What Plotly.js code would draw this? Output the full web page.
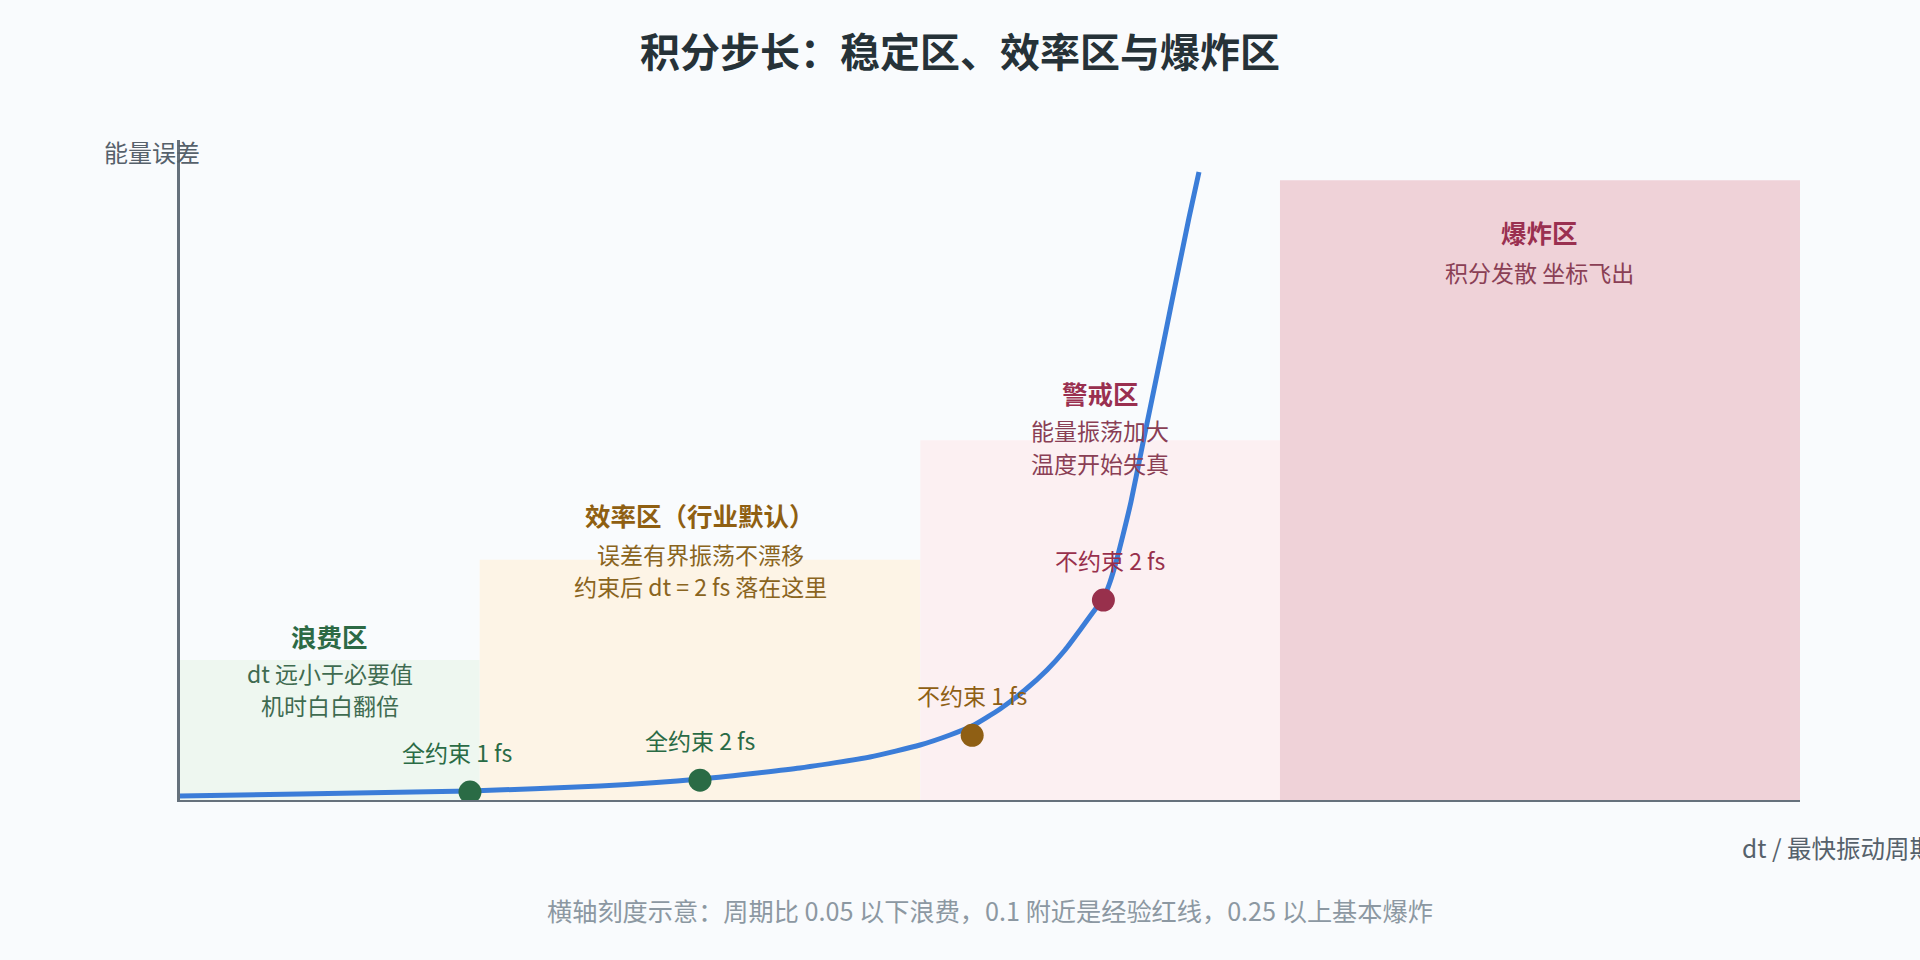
<!DOCTYPE html>
<html>
<head>
<meta charset="utf-8">
<script src="https://cdn.plot.ly/plotly-3.0.1.min.js"></script>
<style>
html,body{margin:0;padding:0;background:#f9fbfd;}
#chart{width:1920px;height:960px;}
</style>
</head>
<body>
<div id="chart"></div>
<script>
// ---- data ----
const curveX = [0, 7.41, 17.90, 25.93, 32.10, 38.27, 42.59, 45.68, 47.53, 48.89, 50.62, 52.16, 53.52, 54.63, 55.56, 56.30, 57.04, 57.41, 57.78, 58.21, 58.70, 59.44, 60.56, 61.17, 62.28, 62.90];
const curveY = [0.61, 0.91, 1.36, 2.12, 3.18, 4.85, 6.52, 8.33, 9.85, 11.21, 13.79, 16.67, 19.70, 22.73, 25.76, 28.26, 30.76, 33.03, 36.06, 40.15, 45.15, 54.09, 67.42, 74.85, 88.18, 95.15];

const pointNames = ["全约束 1 fs", "全约束 2 fs", "不约束 1 fs", "不约束 2 fs"];
const pointX = [17.9, 32.1, 48.9, 57.0];
const pointY = [1.2, 3.0, 9.8, 30.3];

const zoneNames = ["浪费区", "效率区（行业默认）", "警戒区", "爆炸区"];
const zoneStart = [0, 18.5, 45.7, 67.9];
const zoneEnd = [18.5, 45.7, 67.9, 100];
const zoneTop = [21.2, 36.4, 54.5, 93.9];
const zoneNotes = [
  ["dt 远小于必要值", "机时白白翻倍"],
  ["误差有界振荡不漂移", "约束后 dt = 2 fs 落在这里"],
  ["能量振荡加大", "温度开始失真"],
  ["积分发散 坐标飞出"]
];

const titleText = "积分步长：稳定区、效率区与爆炸区";
const yTitle = "能量误差";
const xTitle = "dt / 最快振动周期";
const footnote = "横轴刻度示意：周期比 0.05 以下浪费，0.1 附近是经验红线，0.25 以上基本爆炸";

// ---- styles ----
const FONT = "Noto Sans CJK SC, Noto Sans, sans-serif";
const zoneFill = ["#eef7f0", "#fdf4e6", "#fcf0f2", "#efd2d8"];
const zoneTitleColor = ["#2d6a45", "#8f5f12", "#9a3050", "#9a3050"];
const zoneNoteColor = ["#3f6b50", "#8a6420", "#8a3f55", "#8a3f55"];
const zoneTitleY = [25.0, 43.2, 61.8, 86.1];
const zoneNoteY = [[19.2, 14.4], [37.3, 32.4], [56.1, 51.1], [80.0]];
const pointColor = ["#2a6b45", "#2a6b45", "#8f5f14", "#98304c"];
const pointLabelColor = ["#2a6b45", "#2a6b45", "#8f5f14", "#98304c"];
const pointShiftX = [-13, 0, 0, 7];

const shapes = zoneStart.map((s, i) => ({
  type: "rect", xref: "x", yref: "y", layer: "below",
  x0: s, x1: zoneEnd[i], y0: 0, y1: zoneTop[i],
  fillcolor: zoneFill[i], line: {width: 0}
}));

const annotations = [];
zoneNames.forEach((n, i) => {
  const cx = (zoneStart[i] + zoneEnd[i]) / 2;
  annotations.push({x: cx, y: zoneTitleY[i], xref: "x", yref: "y", text: "<b>" + n + "</b>",
    showarrow: false, xanchor: "center", yanchor: "middle",
    font: {family: FONT, size: 25.5, color: zoneTitleColor[i]}});
  zoneNotes[i].forEach((t, j) => {
    annotations.push({x: cx, y: zoneNoteY[i][j], xref: "x", yref: "y", text: t,
      showarrow: false, xanchor: "center", yanchor: "middle",
      font: {family: FONT, size: 23, color: zoneNoteColor[i]}});
  });
});
pointNames.forEach((n, i) => {
  annotations.push({x: pointX[i], y: pointY[i], xref: "x", yref: "y", text: n,
    showarrow: false, xanchor: "center", yanchor: "middle", yshift: 40, xshift: pointShiftX[i],
    font: {family: FONT, size: 23, color: pointLabelColor[i]}});
});
annotations.push({x: -0.017, y: 0.982, xref: "paper", yref: "paper", text: yTitle,
  showarrow: false, xanchor: "center", yanchor: "middle",
  font: {family: FONT, size: 24, color: "#56616b"}});
annotations.push({x: 0.9630, y: -0.0727, xref: "paper", yref: "paper", text: xTitle,
  showarrow: false, xanchor: "left", yanchor: "middle",
  font: {family: FONT, size: 24.5, color: "#56616b"}});
annotations.push({x: 0.5, y: -0.1667, xref: "paper", yref: "paper", text: footnote,
  showarrow: false, xanchor: "center", yanchor: "middle",
  font: {family: FONT, size: 25.2, color: "#8c98a2"}});

const traces = [
  {x: curveX, y: curveY, type: "scatter", mode: "lines",
   line: {color: "#3b7dd8", width: 5, shape: "spline", smoothing: 0.5},
   hoverinfo: "skip", showlegend: false},
  {x: pointX, y: pointY, type: "scatter", mode: "markers", text: pointNames,
   marker: {size: 23, color: pointColor, line: {width: 0}},
   hoverinfo: "text", showlegend: false}
];

const layout = {
  width: 1920, height: 960,
  paper_bgcolor: "#f9fbfd", plot_bgcolor: "rgba(0,0,0,0)",
  margin: {l: 180, r: 120, t: 140, b: 160},
  title: {text: "<b>" + titleText + "</b>", x: 0.5, xref: "container", xanchor: "center",
    y: 1 - 53 / 960, yref: "container", yanchor: "middle",
    font: {family: FONT, size: 40, color: "#263238"}},
  xaxis: {range: [0, 100], showgrid: false, zeroline: false, showticklabels: false, ticks: "",
    showline: true, linecolor: "#66717c", linewidth: 2, fixedrange: true},
  yaxis: {range: [0, 100], showgrid: false, zeroline: false, showticklabels: false, ticks: "",
    showline: true, linecolor: "#66717c", linewidth: 3, fixedrange: true},
  shapes: shapes,
  annotations: annotations,
  showlegend: false
};

Plotly.newPlot("chart", traces, layout, {displayModeBar: false, staticPlot: false});
</script>
</body>
</html>
